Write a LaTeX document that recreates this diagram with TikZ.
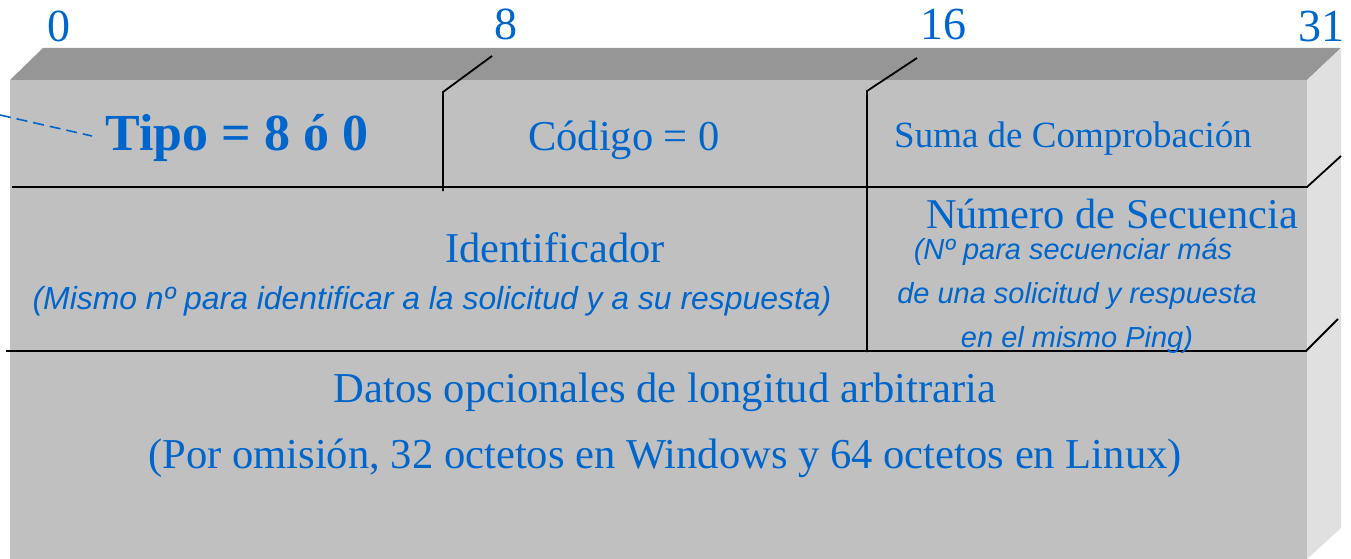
\documentclass[tikz,border=0pt]{standalone}
\usepackage{fontspec}
\setmainfont{Liberation Serif}
\newfontfamily\notefont{Liberation Sans}
\definecolor{txtblue}{RGB}{0,102,204}
\definecolor{frontgray}{RGB}{192,192,192}
\definecolor{topgray}{RGB}{150,150,150}
\definecolor{sidegray}{RGB}{224,224,224}
\tikzset{
  lbl/.style={text=txtblue, inner sep=0pt, anchor=base},
  sz/.style={font=\fontsize{#1}{#1}\selectfont},
  note/.style={text=txtblue, inner sep=0pt, anchor=base, font=\notefont\itshape\fontsize{#1}{#1}\selectfont},
  rule/.style={line width=1.8pt, black},
}
\begin{document}
\begin{tikzpicture}[x=1pt,y=-1pt]
\useasboundingbox (0,0) rectangle (1351,559);
% box faces
\fill[frontgray] (10,80) rectangle (1307,559);
\fill[topgray] (10,80) -- (43,48) -- (1341,48) -- (1307,80) -- cycle;
\fill[sidegray] (1307,80) -- (1341,48) -- (1341,528) -- (1307,559) -- cycle;
% grid lines
\draw[rule] (12,187) -- (1307,187) -- (1341,156);
\draw[rule] (6,351) -- (1306,351) -- (1338,319);
\draw[rule] (443,191) -- (443,92) -- (492,56);
\draw[rule] (867,352) -- (867,91) -- (917,58);
% bit numbers
\node[lbl, sz=46] (b0) at (59,42) {0};
\node[lbl, sz=46] (b8) at (506,40) {8};
\node[lbl, sz=46] (b16) at (943,40) {16};
\node[lbl, sz=46] (b31) at (1321,42) {31};
% first row
\node[lbl, font=\bfseries\fontsize{52}{52}\selectfont] (tipo) at (237,150) {Tipo = 8 ó 0};
\node[lbl, sz=42.5] (codigo) at (624,150) {Código = 0};
\node[lbl, sz=37] (suma) at (1073,147) {Suma de Comprobación};
% dashed pointer
\coordinate (dashstart) at (0,115);
\coordinate (dashend) at (92,136);
\draw[txtblue, line width=1.6pt, dash pattern=on 11pt off 6pt] (dashstart) -- (dashend);
% second row
\node[lbl, sz=42.5] (ident) at (555,262) {Identificador};
\node[note=31.9] (identnote) at (432,309) {(Mismo nº para identificar a la solicitud y a su respuesta)};
\node[lbl, sz=42.4] (numseq) at (1112,228) {Número de Secuencia};
\node[note=29] (seq1) at (1073,259) {(Nº para secuenciar más};
\node[note=29] (seq2) at (1077,303) {de una solicitud y respuesta};
\node[note=29] (seq3) at (1077,347) {en el mismo Ping)};
% third row
\node[lbl, sz=42.6] (datos) at (665,402) {Datos opcionales de longitud arbitraria};
\node[lbl, sz=42.6] (omision) at (665,468) {(Por omisión, 32 octetos en Windows y 64 octetos en Linux)};
\end{tikzpicture}
\end{document}
